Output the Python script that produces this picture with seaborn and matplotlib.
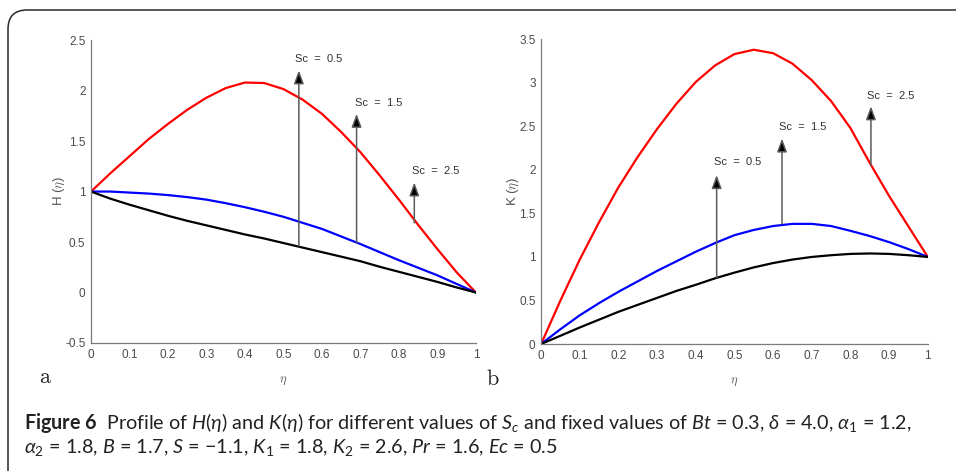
import numpy as np
import pandas as pd
import matplotlib
matplotlib.use('Agg')
import matplotlib.pyplot as plt
import seaborn as sns
from matplotlib.patches import FancyBboxPatch

# eta grid and read-off profiles
eta = [0, 0.05, 0.1, 0.15, 0.2, 0.25, 0.3, 0.35, 0.4, 0.45, 0.5,
       0.55, 0.6, 0.65, 0.7, 0.75, 0.8, 0.85, 0.9, 0.95, 1.0]

H_red = [1.0, 1.18, 1.35, 1.52, 1.67, 1.81, 1.93, 2.025, 2.08, 2.075, 2.015,
         1.91, 1.77, 1.59, 1.39, 1.16, 0.92, 0.67, 0.43, 0.20, 0.0]
H_blue = [1.0, 1.0, 0.99, 0.98, 0.965, 0.945, 0.92, 0.885, 0.845, 0.80, 0.75,
          0.69, 0.63, 0.555, 0.48, 0.40, 0.32, 0.245, 0.17, 0.085, 0.0]
H_black = [1.0, 0.93, 0.87, 0.815, 0.76, 0.71, 0.665, 0.62, 0.575, 0.535, 0.49,
           0.445, 0.40, 0.355, 0.31, 0.255, 0.205, 0.155, 0.105, 0.05, 0.0]

K_red = [0.0, 0.50, 0.97, 1.40, 1.80, 2.15, 2.47, 2.76, 3.01, 3.20, 3.33,
         3.38, 3.34, 3.22, 3.03, 2.79, 2.48, 2.08, 1.70, 1.35, 1.0]
K_blue = [0.0, 0.17, 0.33, 0.47, 0.60, 0.72, 0.84, 0.95, 1.06, 1.16, 1.25,
          1.31, 1.355, 1.38, 1.38, 1.355, 1.30, 1.24, 1.17, 1.09, 1.0]
K_black = [0.0, 0.095, 0.19, 0.28, 0.37, 0.45, 0.53, 0.61, 0.68, 0.755, 0.82,
           0.88, 0.93, 0.97, 1.0, 1.02, 1.035, 1.04, 1.035, 1.02, 1.0]

curve_colors = ['#ff0000', '#0000ff', '#000000']

# arrows: (x, y_start, y_end, label, label_x, label_y)
H_arrows = [(0.54, 0.46, 2.20, 'Sc  =  0.5', 0.529, 2.31),
            (0.69, 0.49, 1.77, 'Sc  =  1.5', 0.686, 1.88),
            (0.84, 0.69, 1.09, 'Sc  =  2.5', 0.833, 1.20)]
K_arrows = [(0.454, 0.76, 1.94, 'Sc  =  0.5', 0.446, 2.09),
            (0.623, 1.38, 2.36, 'Sc  =  1.5', 0.614, 2.49),
            (0.853, 2.05, 2.73, 'Sc  =  2.5', 0.842, 2.85)]

xticks = [0, 0.1, 0.2, 0.3, 0.4, 0.5, 0.6, 0.7, 0.8, 0.9, 1]
H_yticks = [-0.5, 0, 0.5, 1, 1.5, 2, 2.5]
K_yticks = [0, 0.5, 1, 1.5, 2, 2.5, 3, 3.5]

sns.set_style('white')
plt.rcParams['font.family'] = ['Liberation Sans', 'DejaVu Sans']
plt.rcParams['mathtext.fontset'] = 'custom'
plt.rcParams['mathtext.rm'] = 'Lato'
plt.rcParams['mathtext.it'] = 'Lato:italic'
plt.rcParams['mathtext.bf'] = 'Lato:bold'

fig = plt.figure(figsize=(9.56, 4.71), dpi=100)
axH = fig.add_axes([0.0952, 0.2718, 0.4026, 0.643])
axK = fig.add_axes([0.566, 0.2696, 0.4045, 0.647])

def draw_panel(ax, curves, yticks, ylab, ylab_x, arrows, tag, tagx):
    for ys, c in zip(curves, curve_colors):
        df = pd.DataFrame({'eta': eta, 'val': ys})
        sns.lineplot(data=df, x='eta', y='val', ax=ax, color=c, lw=1.6, sort=False)
    ax.set_xlim(0, 1)
    ax.set_ylim(yticks[0], yticks[-1])
    ax.set_xticks(xticks)
    ax.set_yticks(yticks)
    ax.set_xticklabels(['%g' % t for t in xticks])
    ax.set_yticklabels(['%g' % t for t in yticks])
    for s in ['top', 'right']:
        ax.spines[s].set_visible(False)
    for s in ['left', 'bottom']:
        ax.spines[s].set_color('#7a7a7a')
        ax.spines[s].set_linewidth(0.9)
    ax.tick_params(direction='in', length=3, width=0.8, color='#7a7a7a',
                   labelcolor='#4a4a4a', labelsize=8.5, pad=4)
    ax.set_xlabel(r'$\eta$', fontsize=9, color='#555555', math_fontfamily='cm', labelpad=10)
    ax.set_ylabel(ylab, fontsize=9.5, color='#555555', math_fontfamily='cm')
    ax.yaxis.set_label_coords(ylab_x, 0.5)
    for x, y0, y1, lab, tx, ty in arrows:
        ax.annotate('', xy=(x, y1), xytext=(x, y0),
                    arrowprops=dict(arrowstyle='-|>,head_length=0.8,head_width=0.3',
                                    ec='#5a5a5a', fc='black', lw=1.1, shrinkA=0, shrinkB=0))
        ax.text(tx, ty, lab, fontsize=8, color='#333333', va='center', ha='left')
    ax.text(tagx, -0.115, r'$\mathrm{' + tag + '}$', transform=ax.transAxes,
            fontsize=16, math_fontfamily='cm', ha='left', va='center')

draw_panel(axH, [H_red, H_blue, H_black], H_yticks, r'H ($\eta$)', -0.062, H_arrows, 'a', -0.135)
draw_panel(axK, [K_red, K_blue, K_black], K_yticks, r'K ($\eta$)', -0.052, K_arrows, 'b', -0.142)

# rounded frame, only top and left edges visible
frame = FancyBboxPatch((8 / 956, -0.2), 1.2, 1.2 - 10 / 471,
                       boxstyle='round,pad=0,rounding_size=0.02',
                       transform=fig.transFigure, fill=False, ec='#2a2a2a', lw=1.1,
                       mutation_aspect=956 / 471)
fig.patches.append(frame)

line1 = (r'$\mathbf{Figure\ 6}$  Profile of $H(\eta)$ and $K(\eta)$ for different values of $S_c$'
         r' and fixed values of $Bt$ = 0.3, $\delta$ = 4.0, $\alpha_1$ = 1.2,')
line2 = (r'$\alpha_2$ = 1.8, $B$ = 1.7, $S$ = $-$1.1, $K_1$ = 1.8, $K_2$ = 2.6, $Pr$ = 1.6, $Ec$ = 0.5')
fig.text(24 / 956, 1 - 423 / 471, line1, fontsize=14.2, family='Lato',
         color='#222222', va='center', ha='left')
fig.text(24 / 956, 1 - 448 / 471, line2, fontsize=14.2, family='Lato',
         color='#222222', va='center', ha='left')

fig.savefig('out.png', dpi=100)
